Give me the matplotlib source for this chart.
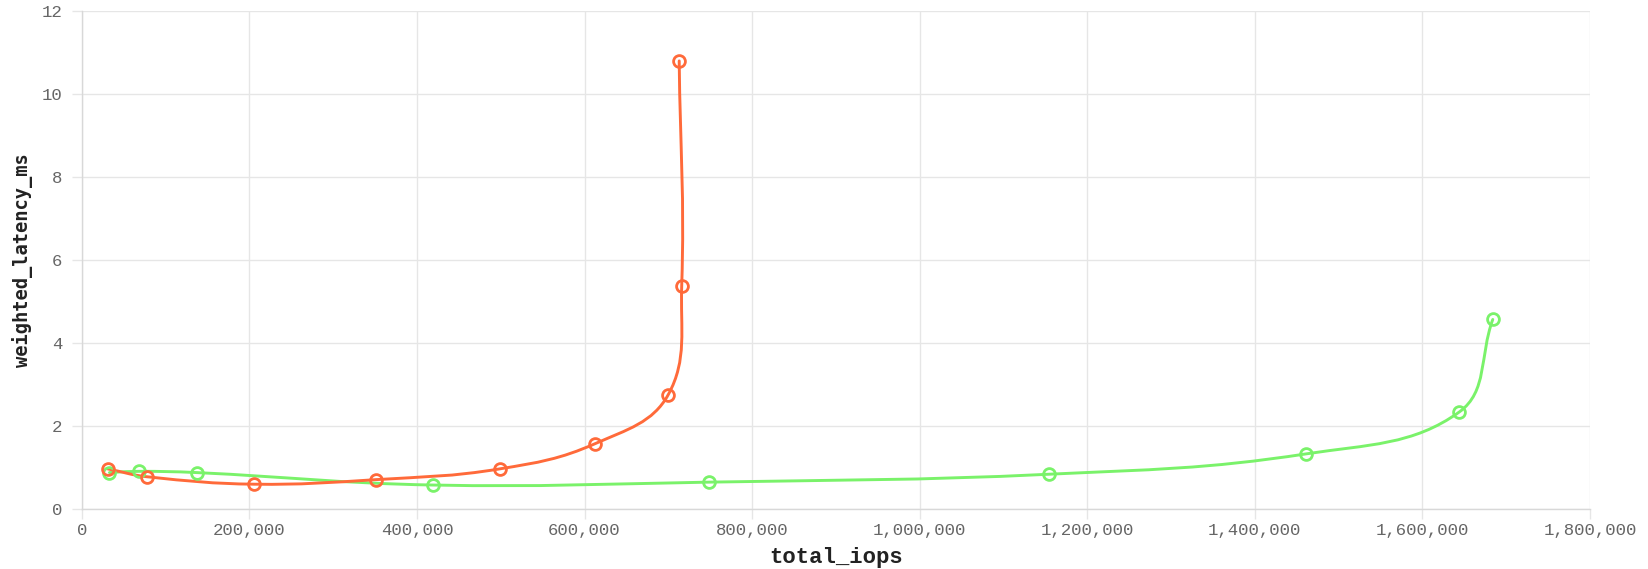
import numpy as np
import matplotlib
matplotlib.use("Agg")
import matplotlib.pyplot as plt
from matplotlib.path import Path
from matplotlib.patches import PathPatch
from matplotlib.ticker import FuncFormatter, MultipleLocator

# Measured throughput vs. latency for two configurations
orange_iops = [30900, 77600, 206000, 351000, 499000, 613000, 700000, 716000, 713000]
orange_lat = [0.96, 0.77, 0.59, 0.70, 0.96, 1.57, 2.75, 5.37, 10.79]

green_iops = [33000, 68000, 137000, 419000, 749000, 1154000, 1461000, 1644000, 1684000]
green_lat = [0.87, 0.90, 0.87, 0.57, 0.64, 0.83, 1.32, 2.33, 4.56]

ORANGE = "#FF6A3A"
GREEN = "#7AF26A"
X_MAX = 1_800_000
Y_MAX = 12

fig = plt.figure(figsize=(16.49, 5.69), dpi=100)
ax = fig.add_axes([0.0496, 0.106, 0.9146, 0.8752])
ax.set_xlim(0, X_MAX)
ax.set_ylim(0, Y_MAX)


def spline_path(xs, ys, tension=0.4):
    """Smooth cubic Bezier through the points, control points computed in pixel space."""
    fig.canvas.draw()
    pts = ax.transData.transform(np.column_stack([xs, ys]))
    n = len(pts)
    prev_cp = np.zeros_like(pts)
    next_cp = np.zeros_like(pts)
    for i in range(n):
        p0 = pts[i - 1] if i > 0 else pts[i]
        p1 = pts[i]
        p2 = pts[i + 1] if i < n - 1 else pts[i]
        d01 = np.hypot(*(p1 - p0))
        d12 = np.hypot(*(p2 - p1))
        tot = d01 + d12
        s01 = d01 / tot if tot else 0.0
        s12 = d12 / tot if tot else 0.0
        prev_cp[i] = p1 - tension * s01 * (p2 - p0)
        next_cp[i] = p1 + tension * s12 * (p2 - p0)
    verts = [pts[0]]
    codes = [Path.MOVETO]
    for i in range(n - 1):
        verts += [next_cp[i], prev_cp[i + 1], pts[i + 1]]
        codes += [Path.CURVE4] * 3
    inv = ax.transData.inverted()
    return Path(inv.transform(np.array(verts)), codes)


for xs, ys, col in [(green_iops, green_lat, GREEN), (orange_iops, orange_lat, ORANGE)]:
    patch = PathPatch(spline_path(xs, ys), facecolor="none", edgecolor=col,
                      lw=2.1, zorder=3, capstyle="round", joinstyle="round")
    ax.add_patch(patch)
    ax.plot(xs, ys, linestyle="none", marker="o", markersize=8.5,
            markerfacecolor="none", markeredgecolor=col, markeredgewidth=2.0,
            zorder=4)

# Grid and axes styling
GRID = "#E6E6E6"
ax.xaxis.set_major_locator(MultipleLocator(200_000))
ax.yaxis.set_major_locator(MultipleLocator(2))
ax.xaxis.set_major_formatter(FuncFormatter(lambda v, p: f"{int(v):,}"))
ax.yaxis.set_major_formatter(FuncFormatter(lambda v, p: f"{int(v)}"))
ax.grid(True, color=GRID, lw=1.0, zorder=0)
ax.set_axisbelow(True)
for side in ["top", "right"]:
    ax.spines[side].set_visible(False)
for side in ["left", "bottom"]:
    ax.spines[side].set_color("#D8D8D8")
    ax.spines[side].set_linewidth(1.0)
ax.tick_params(axis="both", length=7, width=1.0, color=GRID,
               labelsize=12.5, labelcolor="#666666")
ax.tick_params(axis="x", pad=3)
ax.tick_params(axis="y", pad=7)
for lab in ax.get_xticklabels() + ax.get_yticklabels():
    lab.set_family("Liberation Mono")

ax.set_xlabel("total_iops", family="Liberation Mono", fontweight="bold",
              fontsize=16, color="#222222", labelpad=7)
ax.set_ylabel("weighted_latency_ms", family="DejaVu Sans Mono", fontweight="bold",
              fontsize=13.5, color="#222222", labelpad=6)

fig.savefig("out.png", dpi=100, facecolor="white")
